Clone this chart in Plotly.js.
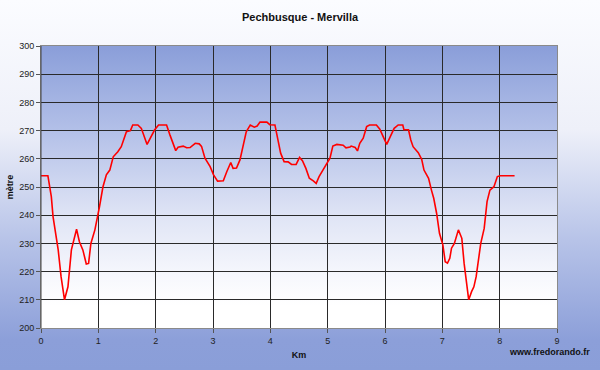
<!DOCTYPE html>
<html>
<head>
<meta charset="utf-8">
<script src="https://cdn.plot.ly/plotly-3.0.1.min.js"></script>
<style>
  html, body { margin:0; padding:0; }
  body { width:600px; height:370px; overflow:hidden;
         background: linear-gradient(to bottom, #fbfcff 0%, #eef0f9 35%, #b7c3e8 65%, #8c9fd9 92%, #8a9ed8 100%); }
  #wrap { position:relative; width:600px; height:370px; }
  #plotbg { position:absolute; left:41px; top:46px; width:516px; height:282px;
            background: linear-gradient(to bottom, #8a9ed9 0%, #b3c0e8 30%, #dfe4f5 60%, #f7f8fd 82%, #ffffff 92%); }
  #chart { position:absolute; left:0; top:0; width:600px; height:370px; }
</style>
</head>
<body>
<div id="wrap">
  <div id="plotbg"></div>
  <div id="chart"></div>
</div>
<script>
// distance (km)
var km = [0.00, 0.12, 0.18, 0.21, 0.30, 0.35, 0.41, 0.47, 0.53, 0.62, 0.67, 0.73, 0.79, 0.83, 0.87, 0.94,
          1.02, 1.08, 1.14, 1.20, 1.26, 1.34, 1.40, 1.49, 1.56, 1.60, 1.69, 1.75, 1.85, 1.92, 1.98,
          2.05, 2.19, 2.25, 2.31, 2.35, 2.39, 2.48, 2.54, 2.60, 2.69, 2.76, 2.80, 2.86, 2.95,
          3.01, 3.08, 3.18, 3.24, 3.31, 3.35, 3.41, 3.47, 3.52, 3.58, 3.65, 3.72, 3.77, 3.82, 3.94, 3.99,
          4.08, 4.14, 4.18, 4.24, 4.31, 4.37, 4.45, 4.51, 4.56, 4.62, 4.68, 4.75, 4.80, 4.85, 4.92, 4.99,
          5.04, 5.09, 5.16, 5.27, 5.32, 5.39, 5.41, 5.48, 5.52, 5.56, 5.62, 5.68, 5.73, 5.85, 5.91, 5.97,
          6.03, 6.09, 6.16, 6.23, 6.31, 6.33, 6.41, 6.45, 6.49, 6.58, 6.64, 6.68, 6.76, 6.81, 6.85, 6.90, 6.95,
          7.01, 7.05, 7.09, 7.13, 7.16, 7.21, 7.28, 7.34, 7.38, 7.43, 7.46, 7.51, 7.55, 7.59, 7.63, 7.67, 7.73,
          7.76, 7.78, 7.83, 7.90, 7.96, 8.01, 8.26];
// elevation (m)
var altitude = [254, 254, 246.6, 239.5, 227.7, 218.2, 210, 214.6, 227.7, 235, 230.6, 227.7, 222.7, 222.9, 230, 234.8,
          243, 250, 254.3, 256, 260.7, 262.5, 264.3, 269.6, 270, 272, 272, 270.8, 265.1, 267.8, 270.2,
          272, 272, 268.4, 265.5, 262.9, 264.1, 264.5, 263.9, 264, 265.5, 265.3, 264.4, 260.2, 257.2,
          254.3, 252.1, 252.2, 255.4, 258.7, 256.6, 256.7, 259.6, 264.3, 269.6, 272, 271.2, 271.6, 273, 273, 272.1,
          272, 266.7, 262, 259, 258.9, 258, 258, 260.5, 259.3, 256.6, 253.1, 252.2, 251.3, 253.7, 256, 258.4,
          260.2, 264.5, 265.1, 264.8, 263.9, 264.2, 264.5, 264, 262.8, 265.5, 267.3, 271.4, 272, 272, 270.5, 267.8,
          265.1, 267.8, 270.8, 272, 272, 270.3, 270.3, 266.7, 264.3, 262.2, 259.8, 256, 253.1, 248.9, 246, 240.7, 233.6,
          229.4, 223.5, 223, 224.7, 228.3, 230, 234.8, 231.8, 222.9, 214.6, 210, 212.9, 214.6, 218.2, 223.5, 230, 235.3,
          240.7, 244.8, 248.9, 250.1, 253.7, 254, 254];

var xTicks = [0,1,2,3,4,5,6,7,8,9];
var yTicks = [200,210,220,230,240,250,260,270,280,290,300];

var fontFam = 'Liberation Sans, Arial, sans-serif';

var trace = {
  x: km, y: altitude, type: 'scatter', mode: 'lines',
  line: {color: '#ff0000', width: 1.6},
  hoverinfo: 'skip'
};

var layout = {
  width: 600, height: 370,
  margin: {l: 41, r: 43, t: 46, b: 42},
  paper_bgcolor: 'rgba(0,0,0,0)',
  plot_bgcolor: 'rgba(0,0,0,0)',
  showlegend: false,
  title: {text: '<b>Pechbusque - Mervilla</b>', x: 0.5, xanchor: 'center', y: 0.955, yanchor: 'middle',
          font: {family: fontFam, size: 11, color: '#111'}},
  xaxis: {
    range: [0, 9], tickvals: xTicks, ticktext: xTicks.map(String),
    showgrid: true, gridcolor: '#2a2a2a', gridwidth: 1,
    showline: true, linecolor: '#8a8a8a', linewidth: 1, mirror: true,
    ticks: 'outside', ticklen: 4, tickcolor: '#555',
    zeroline: false,
    tickfont: {family: fontFam, size: 9, color: '#222'},
    title: {text: '<b>Km</b>', font: {family: fontFam, size: 9, color: '#111'}, standoff: 6}
  },
  yaxis: {
    range: [200, 300], tickvals: yTicks, ticktext: yTicks.map(String),
    showgrid: true, gridcolor: '#2a2a2a', gridwidth: 1,
    showline: true, linecolor: '#8a8a8a', linewidth: 1, mirror: true,
    ticks: 'outside', ticklen: 4, tickcolor: '#555',
    zeroline: false,
    tickfont: {family: fontFam, size: 9, color: '#222'},
    title: {text: '<b>mètre</b>', font: {family: fontFam, size: 9, color: '#111'}, standoff: 4}
  },
  shapes: [
    {type: 'line', xref: 'paper', yref: 'paper', x0: 0, x1: 0, y0: 0, y1: 1,
     line: {color: '#444', width: 1}}
  ],
  annotations: [
    {text: '<b>www.fredorando.fr</b>', xref: 'paper', yref: 'paper', x: 1.0 + 35/516, y: -24/282,
     xanchor: 'right', yanchor: 'middle', showarrow: false,
     font: {family: fontFam, size: 9, color: '#111'}}
  ]
};

Plotly.newPlot('chart', [trace], layout, {staticPlot: true, displayModeBar: false});
</script>
</body>
</html>
